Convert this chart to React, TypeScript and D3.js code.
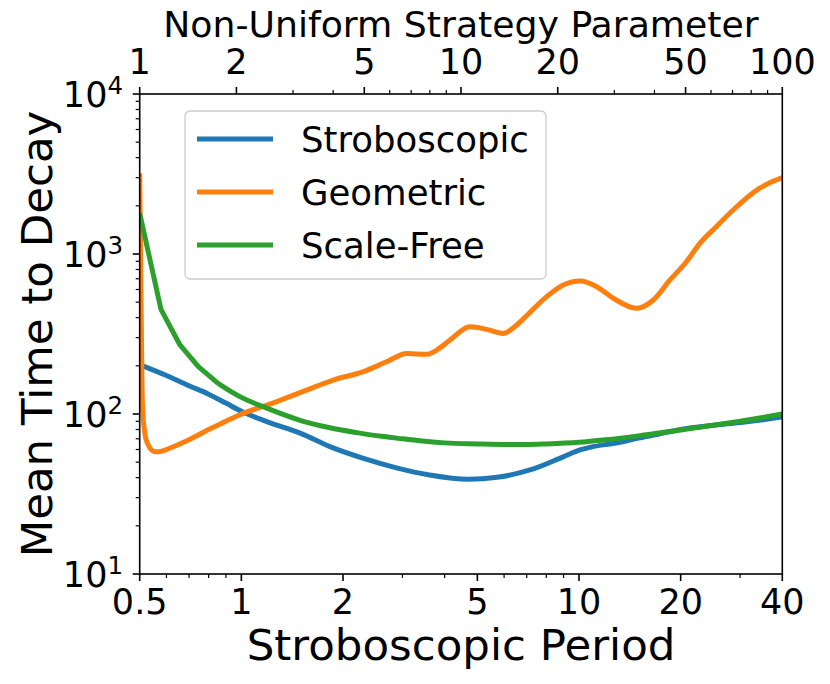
import * as d3 from "d3";

// Stroboscopic period (x) and mean time to decay (y)
const stroboX = [0.51, 0.6, 0.7, 0.8, 0.9, 1, 1.2, 1.5, 1.83, 2.3, 2.88, 3.61, 4.7, 5.72, 7.16, 8.98, 10.07, 11, 12, 13, 15, 17, 20, 25, 30, 35, 40];
const stroboY = [200, 174, 150, 133, 117, 104, 89, 75.6, 62.5, 52.8, 46.1, 41.6, 39.1, 40.2, 44.7, 54, 59.6, 62.5, 64.5, 66, 70.8, 74.5, 80, 85, 88.5, 92, 96];

const geoX = [0.5, 0.503, 0.506, 0.508, 0.511, 0.515, 0.52, 0.53, 0.545, 0.56, 0.58, 0.6, 0.7, 0.8, 0.9, 0.99, 1.24, 1.56, 1.87, 2.3, 2.69, 3.09, 3.54, 3.79, 4.15, 4.75, 5.33, 5.97, 6.54, 7.16, 8.02, 8.98, 10.07, 11.28, 12.63, 14.8, 16.6, 18.6, 20.8, 22.8, 25.5, 28.6, 34.2, 40];
const geoY = [3190, 1000, 300, 150, 100, 83, 72, 64, 59, 58, 58.5, 60, 69, 80, 90, 99, 117, 141, 163, 184, 212, 239, 236, 251, 290, 351, 338, 319, 360, 432, 541, 640, 678, 625, 529, 458, 516, 688, 895, 1166, 1482, 1884, 2570, 3000];

const freeX = [0.5, 0.578, 0.658, 0.746, 0.855, 1, 1.2, 1.5, 1.83, 2.2, 2.6, 3, 3.5, 4, 5, 6, 7, 8, 10, 12, 15, 20, 25, 30, 35, 40];
const freeY = [1795, 451, 270, 198, 155, 127, 108, 91, 82, 76.5, 72.5, 70, 67.5, 66, 65, 64.5, 64.5, 65, 66.5, 69, 73, 79.5, 85, 90, 95, 100];

const seriesNames = ["Stroboscopic", "Geometric", "Scale-Free"];
const seriesColors = ["#1f77b4", "#ff7f0e", "#2ca02c"];

// tick values
const bottomMajor = [0.5, 1, 2, 5, 10, 20, 40];
const bottomMinor = [0.6, 0.7, 0.8, 0.9, 3, 4, 6, 7, 8, 9, 30];
const topMajor = [1, 2, 5, 10, 20, 50, 100];
const topMinor = [3, 4, 6, 7, 8, 9, 30, 40, 60, 70, 80, 90];
const leftMajor = [10, 100, 1000, 10000];
const leftMinor = [20, 30, 40, 50, 60, 70, 80, 90, 200, 300, 400, 500, 600, 700, 800, 900, 2000, 3000, 4000, 5000, 6000, 7000, 8000, 9000];

const W = 830;
const H = 684;
const left = 139.7;
const right = 782.3;
const top = 94;
const bottom = 574;
const font = "DejaVu Sans, sans-serif";

const App = () => {
  const x = d3.scaleLog().domain([0.5, 40]).range([left, right]);
  const xTop = d3.scaleLog().domain([1, 100]).range([left, right]);
  const y = d3.scaleLog().domain([10, 10000]).range([bottom, top]);

  const line = (xs: number[], ys: number[], curve: d3.CurveFactory) =>
    d3
      .line<number>()
      .x((_, i) => x(xs[i]))
      .y((_, i) => y(ys[i]))
      .curve(curve)(ys) || "";

  // scale-free is sampled coarsely at the start: straight segments there, smooth after
  const split = 4;
  const paths = [
    line(stroboX, stroboY, d3.curveMonotoneX),
    line(geoX, geoY, d3.curveMonotoneX),
    line(freeX.slice(0, split + 1), freeY.slice(0, split + 1), d3.curveLinear) +
      line(freeX.slice(split), freeY.slice(split), d3.curveMonotoneX),
  ];

  return (
    <svg
      width={W}
      height={H}
      style={{ position: "absolute", left: 0, top: 0, background: "#fff" }}
      fontFamily={font}
    >
      <defs>
        <clipPath id="plot">
          <rect x={left} y={top} width={right - left} height={bottom - top} />
        </clipPath>
      </defs>

      {/* curves */}
      <g clipPath="url(#plot)">
        {paths.map((d, i) => (
          <path
            key={i}
            d={d}
            fill="none"
            stroke={seriesColors[i]}
            strokeWidth={5}
            strokeLinejoin="round"
            strokeLinecap="butt"
          />
        ))}
      </g>

      {/* spines */}
      <rect
        x={left}
        y={top}
        width={right - left}
        height={bottom - top}
        fill="none"
        stroke="#000"
        strokeWidth={1.6}
      />

      {/* bottom axis */}
      {bottomMajor.map((v) => (
        <g key={"bM" + v}>
          <line x1={x(v)} x2={x(v)} y1={bottom} y2={bottom + 7} stroke="#000" strokeWidth={1.6} />
          <text x={x(v)} y={614} fontSize={35} textAnchor="middle">
            {v}
          </text>
        </g>
      ))}
      {bottomMinor.map((v) => (
        <line key={"bm" + v} x1={x(v)} x2={x(v)} y1={bottom} y2={bottom + 4} stroke="#000" strokeWidth={1.2} />
      ))}
      <text x={(left + right) / 2} y={660} fontSize={43.5} textAnchor="middle">
        Stroboscopic Period
      </text>

      {/* top axis */}
      {topMajor.map((v) => (
        <g key={"tM" + v}>
          <line x1={xTop(v)} x2={xTop(v)} y1={top} y2={top - 7} stroke="#000" strokeWidth={1.6} />
          <text x={xTop(v)} y={74} fontSize={35} textAnchor="middle">
            {v}
          </text>
        </g>
      ))}
      {topMinor.map((v) => (
        <line key={"tm" + v} x1={xTop(v)} x2={xTop(v)} y1={top} y2={top - 4} stroke="#000" strokeWidth={1.2} />
      ))}
      <text x={(left + right) / 2} y={37} fontSize={36.2} textAnchor="middle">
        Non-Uniform Strategy Parameter
      </text>

      {/* left axis */}
      {leftMajor.map((v) => (
        <g key={"lM" + v}>
          <line x1={left} x2={left - 7} y1={y(v)} y2={y(v)} stroke="#000" strokeWidth={1.6} />
          <text x={123} y={y(v) + 12.7} fontSize={35} textAnchor="end">
            10
            <tspan fontSize={24.5} dy={-13}>
              {Math.round(Math.log10(v))}
            </tspan>
          </text>
        </g>
      ))}
      {leftMinor.map((v) => (
        <line key={"lm" + v} x1={left} x2={left - 4} y1={y(v)} y2={y(v)} stroke="#000" strokeWidth={1.2} />
      ))}
      <text
        transform={`translate(52,${(top + bottom) / 2}) rotate(-90)`}
        fontSize={43.5}
        textAnchor="middle"
      >
        Mean Time to Decay
      </text>

      {/* legend */}
      <rect
        x={185}
        y={111}
        width={361}
        height={168}
        rx={5}
        fill="#fff"
        fillOpacity={0.8}
        stroke="#cccccc"
        strokeWidth={1.3}
      />
      {seriesNames.map((name, i) => (
        <g key={name}>
          <line
            x1={197}
            x2={273}
            y1={139 + i * 53}
            y2={139 + i * 53}
            stroke={seriesColors[i]}
            strokeWidth={5}
          />
          <text x={301} y={139 + i * 53 + 13} fontSize={35.5}>
            {name}
          </text>
        </g>
      ))}
    </svg>
  );
};

export default App;
